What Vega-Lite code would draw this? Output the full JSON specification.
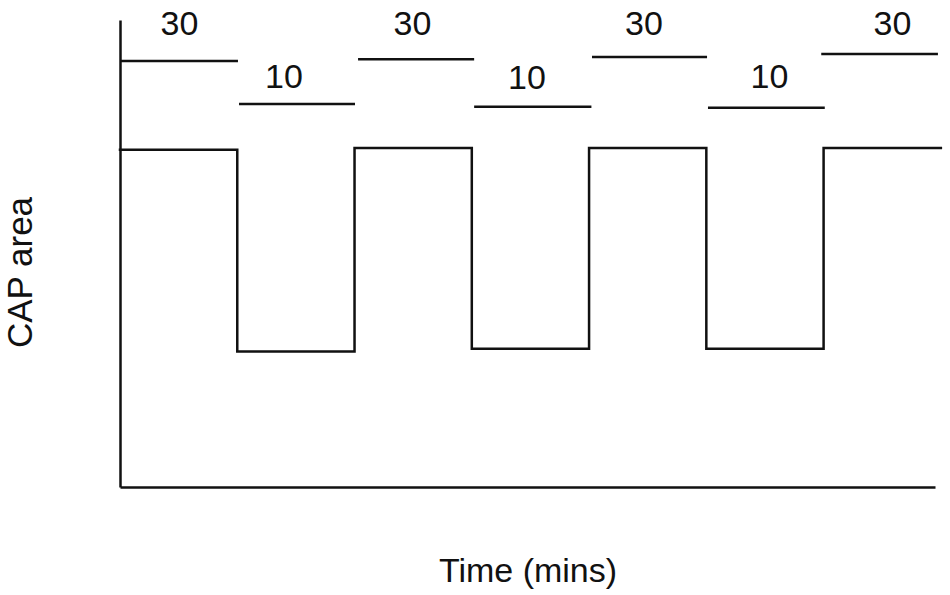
{
  "$schema": "https://vega.github.io/schema/vega-lite/v6.json",
  "width": 815,
  "height": 467,
  "autosize": {"type": "none"},
  "padding": {"left": 120, "top": 20, "right": 15, "bottom": 108},
  "background": "white",
  "config": {
    "view": {"stroke": null},
    "font": "Liberation Sans",
    "axis": {
      "domainColor": "#111111",
      "domainWidth": 2.5,
      "ticks": false,
      "labels": false,
      "grid": false,
      "titleFont": "Liberation Sans",
      "titleFontSize": 34,
      "titleFontWeight": "normal",
      "titleColor": "#111111"
    }
  },
  "datasets": {
    "wave": [
      {"order": 0, "t": 0, "cap": 72.2},
      {"order": 1, "t": 1, "cap": 72.2},
      {"order": 2, "t": 1, "cap": 29.0},
      {"order": 3, "t": 2, "cap": 29.0},
      {"order": 4, "t": 2, "cap": 72.6},
      {"order": 5, "t": 3, "cap": 72.6},
      {"order": 6, "t": 3, "cap": 29.6},
      {"order": 7, "t": 4, "cap": 29.6},
      {"order": 8, "t": 4, "cap": 72.6},
      {"order": 9, "t": 5, "cap": 72.6},
      {"order": 10, "t": 5, "cap": 29.6},
      {"order": 11, "t": 6, "cap": 29.6},
      {"order": 12, "t": 6, "cap": 72.6},
      {"order": 13, "t": 7, "cap": 72.6}
    ],
    "stim": [
      {"start": 0, "end": 1.006, "level": 91.2, "label": "30", "lx": 0.507, "ly": 96.8},
      {"start": 1.015, "end": 2.004, "level": 82.0, "label": "10", "lx": 1.398, "ly": 85.4},
      {"start": 2.03, "end": 3.02, "level": 91.6, "label": "30", "lx": 2.494, "ly": 96.8},
      {"start": 3.02, "end": 4.02, "level": 81.4, "label": "10", "lx": 3.47, "ly": 85.2},
      {"start": 4.025, "end": 5.006, "level": 92.1, "label": "30", "lx": 4.468, "ly": 96.8},
      {"start": 5.014, "end": 6.01, "level": 81.2, "label": "10", "lx": 5.538, "ly": 85.4},
      {"start": 5.98, "end": 6.975, "level": 92.7, "label": "30", "lx": 6.587, "ly": 96.8}
    ]
  },
  "layer": [
    {
      "data": {"name": "wave"},
      "mark": {"type": "line", "color": "#111111", "strokeWidth": 2.5, "strokeCap": "square", "clip": false},
      "encoding": {
        "x": {"field": "t", "type": "quantitative", "scale": {"domain": [0, 6.95], "nice": false, "zero": false}, "axis": {"title": "Time (mins)", "titlePadding": 67}},
        "y": {"field": "cap", "type": "quantitative", "scale": {"domain": [0, 100], "nice": false, "zero": false}, "axis": {"title": "CAP area", "titlePadding": 82, "titleFontSize": 35, "titleY": 252}},
        "order": {"field": "order", "type": "quantitative"}
      }
    },
    {
      "data": {"name": "stim"},
      "mark": {"type": "rule", "color": "#111111", "strokeWidth": 2.5},
      "encoding": {
        "x": {"field": "start", "type": "quantitative"},
        "x2": {"field": "end"},
        "y": {"field": "level", "type": "quantitative"}
      }
    },
    {
      "data": {"name": "stim"},
      "mark": {"type": "text", "font": "Liberation Sans", "fontSize": 34, "color": "#111111", "align": "center", "baseline": "alphabetic"},
      "encoding": {
        "x": {"field": "lx", "type": "quantitative"},
        "y": {"field": "ly", "type": "quantitative"},
        "text": {"field": "label"}
      }
    }
  ]
}
